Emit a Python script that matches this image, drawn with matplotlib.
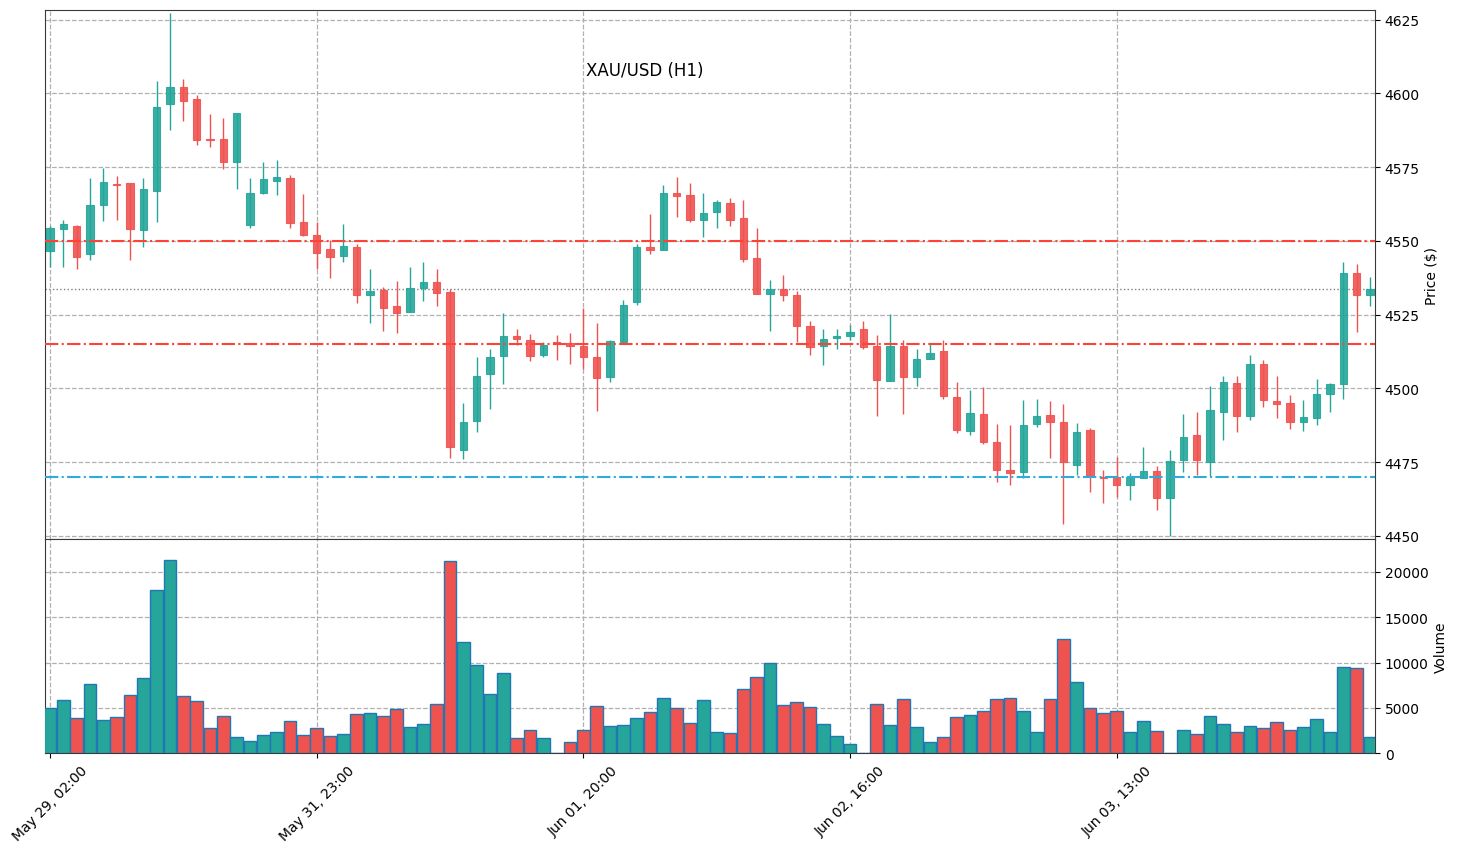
import numpy as np
import matplotlib
matplotlib.use("Agg")
import matplotlib.pyplot as plt

# XAU/USD H1 candles
opens = [
    4546.4, 4554.1, 4555.2, 4545.4, 4562.0, 4569.4, 4569.5, 4553.7, 4567.0, 4596.3,
    4602.1, 4598.0, 4584.5, 4584.5, 4576.9, 4555.5, 4566.4, 4570.4, 4571.3, 4556.4,
    4552.0, 4547.1, 4544.9, 4548.0, 4531.7, 4533.2, 4527.8, 4526.0, 4534.0, 4535.9,
    4532.6, 4479.2, 4488.9, 4504.9, 4511.0, 4517.6, 4516.5, 4511.3, 4515.8, 4515.5,
    4514.5, 4510.7, 4503.9, 4515.7, 4529.3, 4547.8, 4547.0, 4566.1, 4565.4, 4557.2,
    4559.9, 4563.0, 4557.7, 4544.3, 4532.0, 4533.6, 4531.8, 4521.3, 4514.3, 4517.1,
    4517.8, 4520.2, 4514.4, 4502.5, 4514.4, 4503.9, 4510.0, 4512.5, 4497.2, 4485.5,
    4491.4, 4481.9, 4472.4, 4471.5, 4487.9, 4491.0, 4488.7, 4474.0, 4485.9, 4470.0,
    4469.9, 4467.1, 4469.7, 4472.0, 4462.7, 4475.6, 4484.2, 4474.9, 4491.9, 4501.9,
    4490.6, 4508.4, 4495.8, 4495.1, 4488.6, 4489.9, 4498.1, 4501.4, 4539.2, 4531.7]
highs = [
    4555.0, 4557.2, 4555.5, 4571.2, 4574.6, 4571.9, 4569.5, 4571.2, 4604.1, 4627.2,
    4604.8, 4599.4, 4592.9, 4591.6, 4593.2, 4571.2, 4576.7, 4577.4, 4572.3, 4565.8,
    4556.5, 4550.2, 4555.6, 4548.9, 4540.3, 4534.5, 4536.3, 4541.0, 4542.9, 4540.6,
    4533.6, 4495.0, 4510.7, 4513.2, 4525.7, 4520.2, 4518.3, 4515.8, 4518.0, 4518.9,
    4527.3, 4522.3, 4516.5, 4530.0, 4548.9, 4559.1, 4568.8, 4571.6, 4569.5, 4566.1,
    4563.8, 4564.4, 4564.0, 4554.5, 4536.9, 4538.3, 4533.0, 4523.0, 4520.2, 4520.2,
    4521.4, 4523.0, 4518.0, 4525.3, 4516.3, 4513.2, 4514.9, 4516.3, 4502.3, 4499.5,
    4500.5, 4488.0, 4487.7, 4496.1, 4496.5, 4495.8, 4494.7, 4488.4, 4486.6, 4472.2,
    4476.8, 4471.2, 4480.1, 4473.7, 4479.0, 4491.4, 4492.1, 4500.9, 4504.2, 4504.2,
    4511.4, 4509.7, 4504.2, 4497.9, 4496.1, 4503.3, 4501.9, 4542.7, 4542.1, 4537.9]
lows = [
    4541.0, 4541.3, 4540.3, 4543.6, 4556.6, 4557.0, 4543.6, 4547.8, 4556.3, 4587.6,
    4590.6, 4582.5, 4581.8, 4574.4, 4567.5, 4554.2, 4566.0, 4565.7, 4554.5, 4551.5,
    4540.4, 4537.5, 4542.7, 4529.0, 4522.3, 4519.5, 4518.8, 4526.0, 4529.7, 4527.8,
    4476.4, 4476.1, 4485.3, 4493.1, 4501.6, 4514.7, 4509.3, 4510.5, 4509.7, 4508.3,
    4506.5, 4492.3, 4502.3, 4515.7, 4528.1, 4545.7, 4547.0, 4558.1, 4556.3, 4551.2,
    4554.2, 4555.2, 4542.9, 4532.0, 4519.5, 4529.6, 4515.8, 4511.4, 4507.9, 4513.4,
    4516.4, 4513.2, 4490.6, 4502.5, 4491.4, 4500.8, 4510.0, 4496.5, 4484.9, 4484.1,
    4481.2, 4468.2, 4467.4, 4469.7, 4487.0, 4476.3, 4454.0, 4470.7, 4464.7, 4461.1,
    4463.3, 4462.2, 4469.7, 4458.7, 4450.0, 4471.7, 4470.7, 4470.3, 4482.6, 4485.3,
    4489.4, 4493.8, 4490.0, 4486.3, 4485.6, 4487.7, 4492.1, 4496.5, 4519.0, 4528.0]
closes = [
    4554.5, 4555.7, 4544.6, 4562.1, 4569.8, 4569.0, 4554.1, 4567.5, 4595.3, 4602.1,
    4597.5, 4584.3, 4584.3, 4576.9, 4593.2, 4566.1, 4570.9, 4571.7, 4556.2, 4552.1,
    4546.0, 4544.6, 4548.4, 4531.7, 4533.0, 4527.3, 4525.6, 4534.1, 4536.2, 4532.2,
    4480.0, 4488.7, 4504.2, 4510.7, 4517.6, 4516.9, 4511.0, 4514.7, 4515.4, 4514.3,
    4510.8, 4503.5, 4516.2, 4528.3, 4547.8, 4547.0, 4566.1, 4565.3, 4557.2, 4559.6,
    4563.3, 4557.2, 4543.9, 4532.0, 4533.8, 4531.7, 4521.2, 4514.0, 4516.9, 4517.9,
    4519.2, 4514.0, 4502.8, 4514.4, 4503.9, 4510.0, 4512.1, 4497.3, 4485.8, 4491.7,
    4481.7, 4472.2, 4471.2, 4487.7, 4490.7, 4488.6, 4475.1, 4485.2, 4470.2, 4469.6,
    4467.1, 4470.0, 4472.0, 4462.7, 4475.4, 4483.6, 4475.6, 4492.8, 4502.3, 4490.6,
    4508.4, 4496.0, 4494.6, 4488.6, 4490.3, 4498.2, 4501.4, 4539.2, 4531.7, 4533.8]
volumes = [
    4975, 5859, 3869, 7628, 3648, 3980, 6412, 8291, 18020, 21336,
    6301, 5749, 2764, 4090, 1769, 1327, 1990, 2322, 3538, 1990,
    2764, 1879, 2100, 4311, 4422, 4090, 4864, 2874, 3206, 5417,
    21226, 12271, 9728, 6522, 8844, 1658, 2616, 1658, 0, 1216,
    2616, 5196, 2985, 3095, 3869, 4533, 6080, 4975, 3317, 5859,
    2322, 2211, 7075, 8402, 9950, 5306, 5638, 5085, 3206, 1879,
    995, 0, 5417, 3095, 5970, 2874, 1216, 1769, 3980, 4201,
    4643, 5970, 6080, 4643, 2322, 5970, 12603, 7849, 4975, 4422,
    4643, 2322, 3538, 2432, 0, 2543, 2100, 4090, 3206, 2322,
    2985, 2764, 3427, 2543, 2874, 3759, 2322, 9507, 9397, 1769]

tick_labels = ["May 29, 02:00", "May 31, 23:00", "Jun 01, 20:00",
               "Jun 02, 16:00", "Jun 03, 13:00"]
resistance = [4550.0, 4515.0]
support = [4470.0]

up_col = "#26a69a"
down_col = "#ef5350"

o = np.array(opens); h = np.array(highs); l = np.array(lows); c = np.array(closes)
x = np.arange(len(o))
cols = np.where(c >= o, up_col, down_col)

fig = plt.figure(figsize=(14.58, 8.54), dpi=100)
ax = fig.add_axes([0.0309, 0.3671, 0.9122, 0.6206])
axv = fig.add_axes([0.0309, 0.1167, 0.9122, 0.2504], sharex=ax)

# candles
ax.vlines(x, l, h, colors=cols, linewidth=1.0, zorder=3)
ax.bar(x, np.abs(c - o), bottom=np.minimum(o, c), width=0.55, color=cols,
       edgecolor=cols, linewidth=0.8, alpha=0.9, zorder=4)

for lv in resistance:
    ax.axhline(lv, color="#ff4136", linestyle="-.", linewidth=1.5, zorder=5)
for lv in support:
    ax.axhline(lv, color="#2eaadc", linestyle="-.", linewidth=1.5, zorder=5)
ax.axhline(closes[-1], color="gray", linestyle=":", linewidth=1.0, zorder=2)

rng = max(highs) - min(lows)
ax.set_ylim(min(lows) - 0.007 * rng, max(highs) + 0.007 * rng)
ax.set_xlim(-0.37, len(o) - 1 + 0.37)
ax.set_yticks(np.arange(4450, 4626, 25))
ax.yaxis.tick_right()
ax.yaxis.set_label_position("right")
ax.set_ylabel("Price ($)", fontsize=10)
ax.tick_params(axis="x", bottom=False, labelbottom=False)

# volume
axv.bar(x, volumes, width=0.95, color=cols, edgecolor="#1f77b4", linewidth=1.0, zorder=3)
axv.set_ylim(0, max(volumes) * 1.105)
axv.set_yticks(np.arange(0, 20001, 5000))
axv.yaxis.tick_right()
axv.yaxis.set_label_position("right")
axv.set_ylabel("Volume", fontsize=10)
axv.set_xticks(x[::20])
axv.set_xticklabels(tick_labels, rotation=45, ha="center")

for a in (ax, axv):
    a.grid(True, linestyle="--", color="#b0b0b0", linewidth=0.9, zorder=0)
    a.set_axisbelow(True)
    a.tick_params(labelsize=10)
    for s in a.spines.values():
        s.set_color("#3a3a3a")

fig.text(0.442, 0.917, "XAU/USD (H1)", ha="center", va="center", fontsize=12)

fig.savefig("out.png", dpi=100)
